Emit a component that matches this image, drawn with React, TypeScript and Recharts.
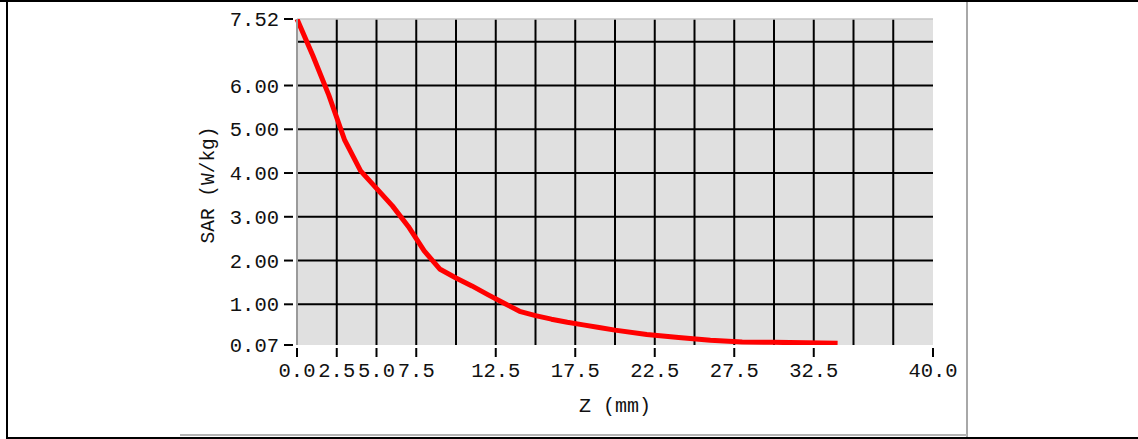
import React from 'react';
import { LineChart, Line, XAxis, YAxis, CartesianGrid, ReferenceLine } from 'recharts';

const zValues = [0, 1, 2, 3, 4, 4.5, 5, 6, 7, 8, 9, 10, 11, 12, 13, 14, 15, 16, 17, 18, 19, 20, 22, 24, 26, 28, 30, 32, 34];
const sarValues = [7.52, 6.68, 5.78, 4.75, 4.05, 3.85, 3.65, 3.25, 2.78, 2.22, 1.8, 1.6, 1.42, 1.22, 1.03, 0.84, 0.74, 0.66, 0.59, 0.53, 0.47, 0.41, 0.31, 0.24, 0.18, 0.14, 0.13, 0.12, 0.11];
const xTicks = [0, 2.5, 5, 7.5, 12.5, 17.5, 22.5, 27.5, 32.5, 40];
const yTicks = [0.07, 1, 2, 3, 4, 5, 6, 7.52];
const xGrid = [2.5, 5, 7.5, 10, 12.5, 15, 17.5, 20, 22.5, 25, 27.5, 30, 32.5, 35, 37.5];
const yGrid = [1, 2, 3, 4, 5, 6, 7];

const data = zValues.map((z, i) => ({ z, sar: sarValues[i] }));

const FONT = '"Liberation Mono", "DejaVu Sans Mono", monospace';

const XTick = (props: any) => {
  const { x, y, payload } = props;
  return (
    <g>
      <line x1={x} x2={x} y1={y + 3} y2={y + 12} stroke="#000" strokeWidth={2} />
      <text x={x} y={y + 32} textAnchor="middle" fontFamily={FONT} fontSize={20.5} fill="#111">
        {payload.value.toFixed(1)}
      </text>
    </g>
  );
};

const YTick = (props: any) => {
  const { x, y, payload } = props;
  return (
    <g>
      <line x1={x - 13} x2={x - 4} y1={y} y2={y} stroke="#000" strokeWidth={2} />
      <text x={x - 18} y={y + 7} textAnchor="end" fontFamily={FONT} fontSize={20.5} fill="#111">
        {payload.value.toFixed(2)}
      </text>
    </g>
  );
};

const YTitle = (props: any) => {
  const vb = props.viewBox || { x: 0, y: 19, width: 297, height: 326 };
  const cy = vb.y + vb.height / 2 + 3;
  const cx = vb.x + 214;
  return (
    <text x={cx} y={cy} transform={`rotate(-90 ${cx} ${cy})`} textAnchor="middle" fontFamily={FONT} fontSize={19.5} fill="#111">
      SAR (W/kg)
    </text>
  );
};

const XTitle = (props: any) => {
  const vb = props.viewBox || { x: 297, y: 345, width: 636, height: 94 };
  return (
    <text x={vb.x + vb.width / 2} y={vb.y + 67} textAnchor="middle" fontFamily={FONT} fontSize={20} fill="#111">
      Z (mm)
    </text>
  );
};

export default function App() {
  return (
    <div style={{ position: 'absolute', left: 0, top: 0, width: 1138, height: 439, background: '#fff', overflow: 'hidden' }}>
      <div style={{ position: 'absolute', left: 0, top: 0 }}>
        <LineChart width={1138} height={439} data={data} margin={{ top: 19, right: 205, bottom: 0, left: 0 }}>
          <CartesianGrid horizontal={false} vertical={false} fill="#e0e0e0" stroke="none" />
          {xGrid.map((v) => (
            <ReferenceLine key={'x' + v} x={v} stroke="#000" strokeWidth={2} ifOverflow="extendDomain" />
          ))}
          {yGrid.map((v) => (
            <ReferenceLine key={'y' + v} y={v} stroke="#000" strokeWidth={2} />
          ))}
          <ReferenceLine y={7.52} stroke="#c4c4c4" strokeWidth={1.5} />
          <XAxis
            dataKey="z"
            type="number"
            domain={[0, 40]}
            ticks={xTicks}
            interval={0}
            axisLine={false}
            tickLine={false}
            tickSize={0}
            tickMargin={0}
            height={94}
            tick={<XTick />}
            label={{ content: (p: any) => <XTitle {...p} /> }}
          />
          <YAxis
            type="number"
            domain={[0.07, 7.52]}
            ticks={yTicks}
            interval={0}
            width={297}
            axisLine={{ stroke: '#9a9a9a', strokeWidth: 2 }}
            tickLine={false}
            tickSize={0}
            tickMargin={0}
            tick={<YTick />}
            allowDataOverflow
            label={{ content: (p: any) => <YTitle {...p} /> }}
          />
          <Line
            type="linear"
            dataKey="sar"
            stroke="#ff0000"
            strokeWidth={5}
            dot={false}
            strokeLinejoin="round"
            isAnimationActive={false}
          />
        </LineChart>
      </div>
      <div style={{ position: 'absolute', left: 0, top: 0, width: 1138, height: 2, background: '#000' }} />
      <div style={{ position: 'absolute', left: 6, top: 0, width: 2, height: 439, background: '#000' }} />
      <div style={{ position: 'absolute', left: 6, top: 437, width: 1132, height: 2, background: '#000' }} />
      <div style={{ position: 'absolute', left: 966, top: 2, width: 2, height: 435, background: '#a8a8a8' }} />
      <div style={{ position: 'absolute', left: 180, top: 434, width: 787, height: 2, background: '#b4b4b4' }} />
    </div>
  );
}
